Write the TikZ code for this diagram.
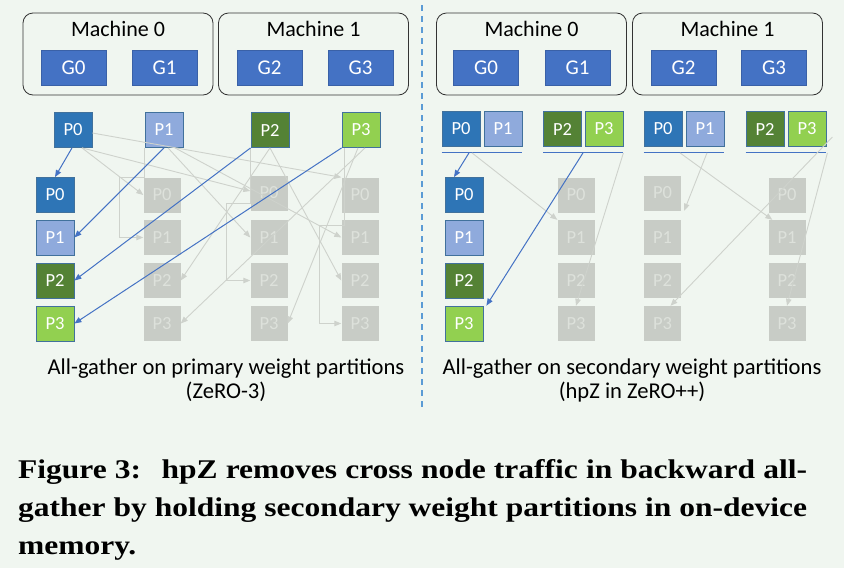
\documentclass[tikz,border=0pt]{standalone}
\usepackage{fontspec}
\setmainfont{Carlito}
\newfontfamily\capfont{Liberation Serif}
\usetikzlibrary{arrows.meta}
\definecolor{bgmint}{RGB}{240,246,240}
\definecolor{gpublue}{RGB}{68,114,196}
\definecolor{pzero}{RGB}{46,117,182}
\definecolor{pone}{RGB}{143,170,220}
\definecolor{ptwo}{RGB}{84,130,53}
\definecolor{pthree}{RGB}{146,208,80}
\definecolor{pedge}{RGB}{65,113,156}
\definecolor{ghost}{RGB}{200,204,198}
\definecolor{ghosttext}{RGB}{221,225,219}
\definecolor{ghostline}{RGB}{206,210,204}
\definecolor{divider}{RGB}{91,155,213}
\tikzset{
  machine/.style={draw=black!80, rounded corners=10pt, line width=0.8pt,
    minimum width=190pt, minimum height=82pt, inner sep=0pt},
  gpu/.style={fill=gpublue, draw=gpublue!85!black, line width=0.4pt, text=white,
    minimum width=65pt, minimum height=35pt, inner sep=0pt,
    font=\fontsize{21}{21}\selectfont},
  part/.style={draw=pedge, line width=0.8pt, text=white, minimum width=38pt,
    minimum height=35pt, inner sep=0pt, font=\fontsize{18.5}{18.5}\selectfont},
  part0/.style={part, fill=pzero},
  part1/.style={part, fill=pone},
  part2/.style={part, fill=ptwo},
  part3/.style={part, fill=pthree},
  ghostpart/.style={fill=ghost, text=ghosttext, minimum width=37pt,
    minimum height=35pt, inner sep=0pt, font=\fontsize{18.5}{18.5}\selectfont},
  move/.style={draw=gpublue, line width=1pt, -{Triangle[length=7pt,width=5.5pt]}},
  ghostmove/.style={draw=ghostline, line width=0.9pt, -{Triangle[length=7pt,width=5.5pt]}},
  shelf/.style={draw=gpublue, line width=0.9pt},
}
\begin{document}
\begin{tikzpicture}[x=1pt,y=-1pt]
    \fill[bgmint] (0,0) rectangle (844,568);
    \useasboundingbox (0,0) rectangle (844,568);
    % machines, left half
    \node[machine] (zm0) at (118,54) {};
    \node[machine] (zm1) at (313.5,54) {};
    \node[font=\fontsize{22}{22}\selectfont] at (118,29) {Machine 0};
    \node[font=\fontsize{22}{22}\selectfont] at (313.5,29) {Machine 1};
    \node[gpu] (zg0) at (73.5,67.5) {G0};
    \node[gpu] (zg1) at (164.5,67.5) {G1};
    \node[gpu] (zg2) at (269.5,67.5) {G2};
    \node[gpu] (zg3) at (360.5,67.5) {G3};
    % machines, right half
    \node[machine] (hm0) at (531.5,54) {};
    \node[machine] (hm1) at (727.5,54) {};
    \node[font=\fontsize{22}{22}\selectfont] at (531.5,29) {Machine 0};
    \node[font=\fontsize{22}{22}\selectfont] at (727.5,29) {Machine 1};
    \node[gpu] (hg0) at (486,67.5) {G0};
    \node[gpu] (hg1) at (577.5,67.5) {G1};
    \node[gpu] (hg2) at (683.5,67.5) {G2};
    \node[gpu] (hg3) at (774,67.5) {G3};
    \draw[divider, line width=1.5pt, dash pattern=on 6pt off 5pt] (422,5) -- (422,410);
    % ZeRO-3: primary partitions
    \node[part0] (zP0) at (73,130) {P0};
    \node[part1] (zP1) at (164,130) {P1};
    \node[part2] (zP2) at (270,130) {P2};
    \node[part3] (zP3) at (361,130) {P3};
    \node[part0] (za0) at (55,195) {P0};
    \node[part1] (za1) at (55,237.5) {P1};
    \node[part2] (za2) at (55,280.5) {P2};
    \node[part3] (za3) at (55,323.5) {P3};
    \node[ghostpart] (zb0) at (162,195) {P0};  \node[ghostpart] (zc0) at (269,193) {P0};  \node[ghostpart] (zd0) at (360,195) {P0};
    \node[ghostpart] (zb1) at (162,237.5) {P1};\node[ghostpart] (zc1) at (269,237.5) {P1};\node[ghostpart] (zd1) at (360,237.5) {P1};
    \node[ghostpart] (zb2) at (162,280.5) {P2};\node[ghostpart] (zc2) at (269,280.5) {P2};\node[ghostpart] (zd2) at (360,280.5) {P2};
    \node[ghostpart] (zb3) at (162,323.5) {P3};\node[ghostpart] (zc3) at (269,323.5) {P3};\node[ghostpart] (zd3) at (360,323.5) {P3};
    \draw[ghostmove] ([yshift=-3pt]zP0.east) -- (zd0.north west);
    \draw[ghostmove] ([xshift=9pt]zP0.south) -- (zb0.west);
    \draw[ghostmove] ([xshift=9pt]zP0.south) -- ([yshift=2pt]zc0.west);
    \draw[ghostmove] ([xshift=4pt]zP1.south) -- (zc1.west);
    \draw[ghostmove] ([xshift=11pt]zP1.south) -- (zd1.west);
    \draw[ghostmove] (zP1.south west) -- ++(0,30) -- ++(-25,0) |- (zb1.west);
    \draw[ghostmove] (zP2.south) -- (zb2.east);
    \draw[ghostmove] (zP2.south) -- (zd2.west);
    \draw[ghostmove] (zP2.south west) -- ++(0,56) -- ++(-24,0) |- (zc2.west);
    \draw[ghostmove] ([xshift=-3pt]zP3.south) -- (zc3.east);
    \draw[ghostmove] ([xshift=4pt]zP3.south) -- (zb3.east);
    \draw[ghostmove] ([xshift=3pt]zP3.south west) -- ++(0,78) -- ++(-25,0) |- (zd3.west);
    \draw[move] ([xshift=-1pt]zP0.south) -- (za0.north);
    \draw[move] (zP1.south) -- (za1.east);
    \draw[move] (zP2.south west) -- (za2.east);
    \draw[move] (zP3.south west) -- (za3.east);
    \node[align=center, font=\fontsize{22.6}{24}\selectfont] (zcap) at (226,380)
      {All-gather on primary weight partitions\\(ZeRO-3)};
    % hpZ: secondary partitions
    \node[part0] (hA0) at (461,129) {P0};  \node[part1] (hA1) at (503,129) {P1};
    \node[part2] (hB2) at (562.5,129) {P2};\node[part3] (hB3) at (604,129) {P3};
    \node[part0] (hC0) at (663,129) {P0};  \node[part1] (hC1) at (705,129) {P1};
    \node[part2] (hD2) at (765,129) {P2};  \node[part3] (hD3) at (807,129) {P3};
    \draw[shelf] ([yshift=-6pt]hA0.south west) -- ([yshift=-6pt]hA1.south east);
    \draw[shelf] ([yshift=-6pt]hB2.south west) -- ([yshift=-6pt]hB3.south east);
    \draw[shelf] ([yshift=-6pt]hC0.south west) -- ([yshift=-6pt]hC1.south east);
    \draw[shelf] ([yshift=-6pt]hD2.south west) -- ([yshift=-6pt]hD3.south east);
    \node[part0] (ha0) at (464,195) {P0};
    \node[part1] (ha1) at (464,237.5) {P1};
    \node[part2] (ha2) at (464,280.5) {P2};
    \node[part3] (ha3) at (464,323.5) {P3};
    \node[ghostpart] (hb0) at (576,195) {P0};  \node[ghostpart] (hc0) at (662.5,193) {P0};  \node[ghostpart] (hd0) at (787,195) {P0};
    \node[ghostpart] (hb1) at (576,237.5) {P1};\node[ghostpart] (hc1) at (662.5,237.5) {P1};\node[ghostpart] (hd1) at (787,237.5) {P1};
    \node[ghostpart] (hb2) at (576,280.5) {P2};\node[ghostpart] (hc2) at (662.5,280.5) {P2};\node[ghostpart] (hd2) at (787,280.5) {P2};
    \node[ghostpart] (hb3) at (576,323.5) {P3};\node[ghostpart] (hc3) at (662.5,323.5) {P3};\node[ghostpart] (hd3) at (787,323.5) {P3};
    \draw[ghostmove] ([xshift=11pt,yshift=-6pt]hA0.south) -- (hb1.north west);
    \draw[ghostmove] ([yshift=-6pt]hB3.south east) -- (hb3.north);
    \draw[ghostmove] ([xshift=2pt,yshift=-6pt]hC1.south) -- ([xshift=3pt]hc0.south east);
    \draw[ghostmove] ([xshift=17pt,yshift=-6pt]hC0.south) -- ([xshift=4pt]hd1.north west);
    \draw[ghostmove] ([xshift=6pt,yshift=-8pt]hD3.east) -- ([xshift=8pt]hc3.north);
    \draw[ghostmove] ([xshift=1pt,yshift=-6pt]hD3.south east) -- (hd3.north);
    \draw[move] ([xshift=8pt,yshift=-6pt]hA0.south) -- ([xshift=-10pt]ha0.north);
    \draw[move] ([xshift=-21pt,yshift=-6pt]hB3.south) -- ([xshift=3pt]ha3.north east);
    \node[align=center, font=\fontsize{22.6}{24}\selectfont] (hcap) at (632,380)
      {All-gather on secondary weight partitions\\(hpZ in ZeRO++)};
    % figure caption
    \begin{scope}[every node/.style={anchor=base west, inner sep=0pt,
        font=\capfont\bfseries\fontsize{27}{38}\selectfont}]
      \node (cap1) at (18,478) {\scalebox{1.167}[1]{\makebox[676pt][s]{Figure 3:\hspace{0.3em} hpZ removes cross node traffic in backward all-}}};
      \node (cap2) at (18,516) {\scalebox{1.167}[1]{\makebox[676pt][s]{gather by holding secondary weight partitions in on-device}}};
      \node (cap3) at (18,554) {\scalebox{1.167}[1]{memory.}};
    \end{scope}
\end{tikzpicture}
\end{document}
